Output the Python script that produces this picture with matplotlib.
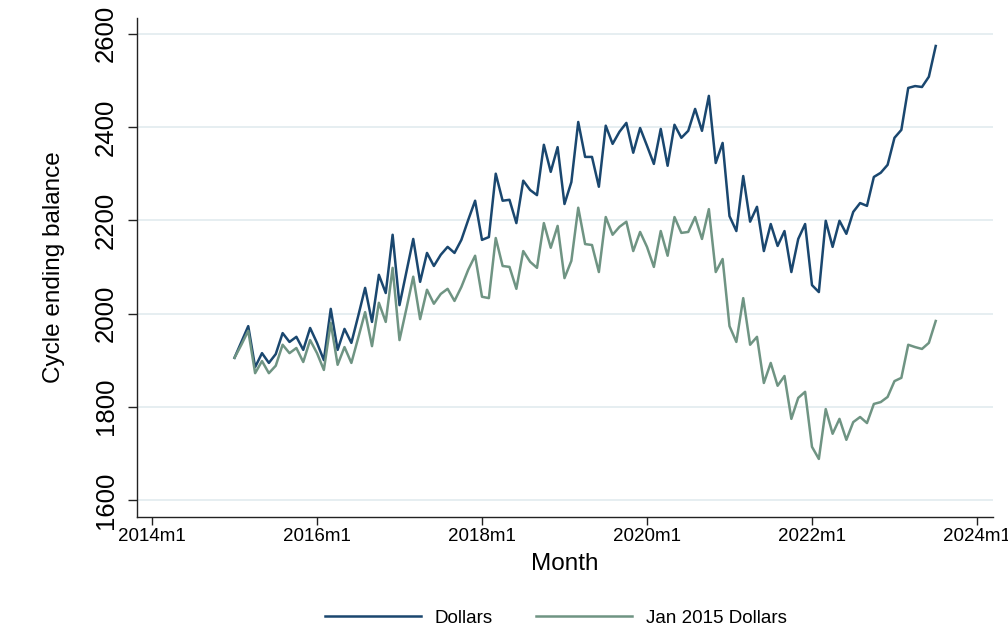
import numpy as np
import matplotlib
matplotlib.use('Agg')
import matplotlib.pyplot as plt

plt.rcParams['font.family'] = ['Liberation Sans', 'DejaVu Sans']

# monthly series, 2015m1 .. 2023m7
start_year = 2015
dollars = [1905, 1939, 1973, 1885, 1915, 1894, 1913, 1958, 1939, 1950, 1922, 1969,
           1937, 1900, 2010, 1922, 1967, 1937, 1995, 2055, 1982, 2083, 2044, 2169,
           2018, 2089, 2160, 2068, 2130, 2102, 2126, 2143, 2130, 2158, 2201, 2242,
           2158, 2164, 2300, 2242, 2244, 2194, 2285, 2265, 2254, 2362, 2304, 2357,
           2235, 2282, 2411, 2336, 2336, 2272, 2403, 2364, 2390, 2409, 2345, 2398,
           2360, 2321, 2396, 2317, 2405, 2377, 2392, 2439, 2392, 2467, 2323, 2366,
           2209, 2177, 2295, 2197, 2229, 2134, 2192, 2145, 2177, 2089, 2160, 2192,
           2061, 2046, 2199, 2143, 2199, 2171, 2218, 2237, 2231, 2293, 2302, 2319,
           2377, 2394, 2484, 2488, 2486, 2508, 2574]
real_dollars = [1905, 1933, 1963, 1872, 1898, 1872, 1888, 1933, 1915, 1926, 1896, 1943,
                1915, 1879, 1980, 1890, 1928, 1894, 1948, 2003, 1930, 2023, 1982, 2098,
                1943, 2010, 2079, 1988, 2051, 2021, 2042, 2053, 2027, 2057, 2094, 2124,
                2036, 2033, 2162, 2102, 2100, 2053, 2134, 2111, 2098, 2194, 2141, 2188,
                2076, 2113, 2227, 2149, 2147, 2089, 2207, 2169, 2186, 2197, 2134, 2175,
                2143, 2100, 2177, 2124, 2207, 2173, 2175, 2207, 2160, 2224, 2089, 2117,
                1973, 1939, 2033, 1933, 1950, 1851, 1894, 1845, 1866, 1774, 1819, 1832,
                1714, 1688, 1795, 1742, 1774, 1729, 1767, 1778, 1765, 1806, 1810, 1821,
                1855, 1862, 1933, 1928, 1924, 1937, 1984]
series_names = ['Dollars', 'Jan 2015 Dollars']
xtick_years = [2014, 2016, 2018, 2020, 2022, 2024]
yticks = [1600, 1800, 2000, 2200, 2400, 2600]

t = start_year + np.arange(len(dollars)) / 12.0

fig = plt.figure(figsize=(10.08, 6.28), dpi=100)
ax = fig.add_axes([0.1359, 0.1768, 0.8492, 0.7945])

ax.set_yticks(yticks)
ax.grid(axis='y', color='#e6eef1', linewidth=1.4)
ax.set_axisbelow(True)

ax.plot(t, dollars, color='#1a476f', linewidth=1.8, label=series_names[0])
ax.plot(t, real_dollars, color='#6f9483', linewidth=1.8, label=series_names[1])

ax.set_xlim(2013.818, 2024.194)
ax.set_ylim(1563.5, 2634)
ax.set_xticks(xtick_years)
ax.set_xticklabels(['%dm1' % y for y in xtick_years])

for s in ['top', 'right']:
    ax.spines[s].set_visible(False)
for s in ['left', 'bottom']:
    ax.spines[s].set_color('#222222')
    ax.spines[s].set_linewidth(1.0)

ax.tick_params(axis='x', length=6, width=1, pad=2, labelsize=13.5, colors='#222222', labelcolor='black')
ax.tick_params(axis='y', length=6.5, width=1, pad=7, labelsize=18.5, colors='#222222', labelcolor='black')
for lab in ax.get_yticklabels():
    lab.set_rotation(90)
    lab.set_va('center')

ax.set_ylabel('Cycle ending balance', fontsize=17.5, labelpad=21)
ax.set_xlabel('Month', fontsize=17.5, labelpad=6)

fig.legend(loc='center', bbox_to_anchor=(0.5516, 0.016), ncol=2, frameon=False,
           fontsize=13.5, handlelength=5.1, handletextpad=0.75, columnspacing=2.3)

fig.savefig('out.png', dpi=100, facecolor='white')
